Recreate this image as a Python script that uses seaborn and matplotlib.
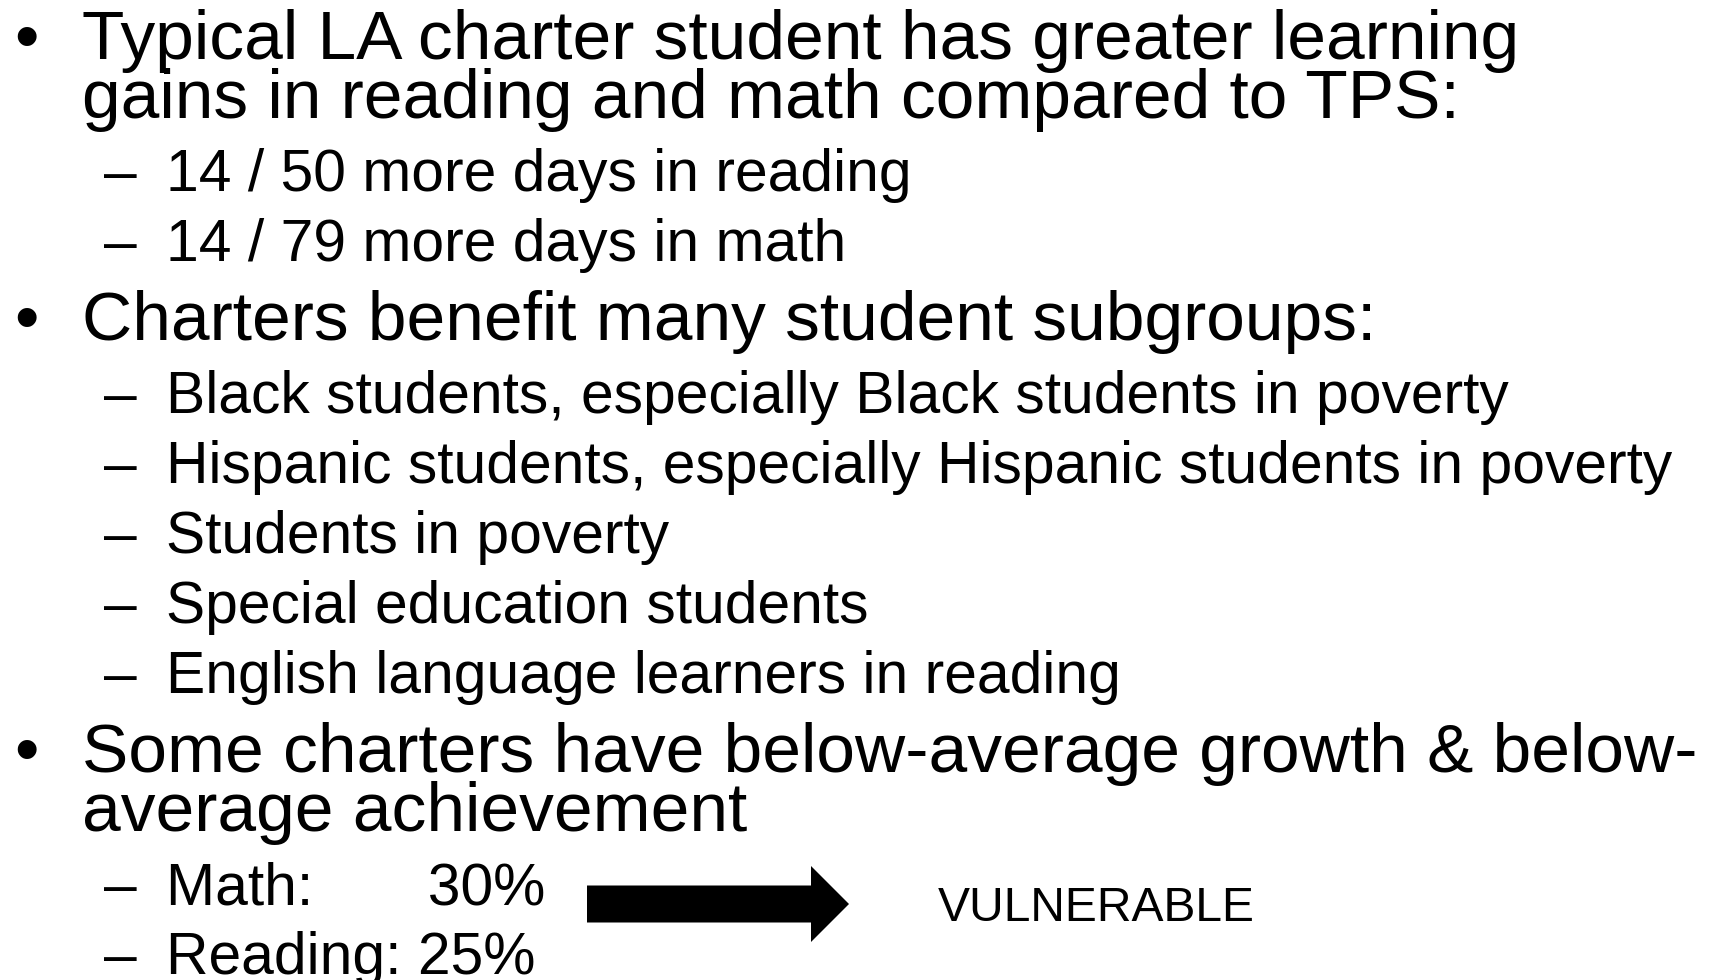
import matplotlib.pyplot as plt
import seaborn as sns

# slide content
bullets = [
    ["Typical LA charter student has greater learning",
     "gains in reading and math compared to TPS:"],
    ["Charters benefit many student subgroups:"],
    ["Some charters have below-average growth & below-",
     "average achievement"],
]
sub_items = [
    ["14 / 50 more days in reading",
     "14 / 79 more days in math"],
    ["Black students, especially Black students in poverty",
     "Hispanic students, especially Hispanic students in poverty",
     "Students in poverty",
     "Special education students",
     "English language learners in reading"],
    ["Math:       30%",
     "Reading: 25%"],
]
callout = "VULNERABLE"

sns.set_theme(style="white")
plt.rcParams["font.family"] = ["Liberation Sans", "DejaVu Sans"]
plt.rcParams["text.color"] = "black"

W, H = 1711, 980
fig = plt.figure(figsize=(W / 100, H / 100), dpi=100)
ax = fig.add_axes([0, 0, 1, 1])
ax.set_xlim(0, W)
ax.set_ylim(H, 0)
ax.axis("off")

main_size, sub_size = 50, 42.3
y = 59
last_sub_y = None
for i, (lines, subs) in enumerate(zip(bullets, sub_items)):
    if i > 0:
        y += 79
    ax.text(14, y, "\u2022", fontsize=main_size, va="baseline", ha="left")
    for j, line in enumerate(lines):
        if j > 0:
            y += 59
        ax.text(82, y, line, fontsize=main_size, va="baseline", ha="left")
    y += 73
    for j, s in enumerate(subs):
        if j > 0:
            y += 70
        ax.text(104, y, "\u2013", fontsize=sub_size, va="baseline", ha="left")
        ax.text(166, y, s, fontsize=sub_size, va="baseline", ha="left")
        if i == 2 and j == 0:
            last_sub_y = y

# arrow pointing to the callout
ax.arrow(587, last_sub_y, 262, 0, width=37, head_width=76, head_length=38,
         length_includes_head=True, color="black", lw=0)
ax.text(938, last_sub_y + 17, callout, fontsize=34.6, va="baseline", ha="left")

fig.savefig("out.png", dpi=100, facecolor="white")
